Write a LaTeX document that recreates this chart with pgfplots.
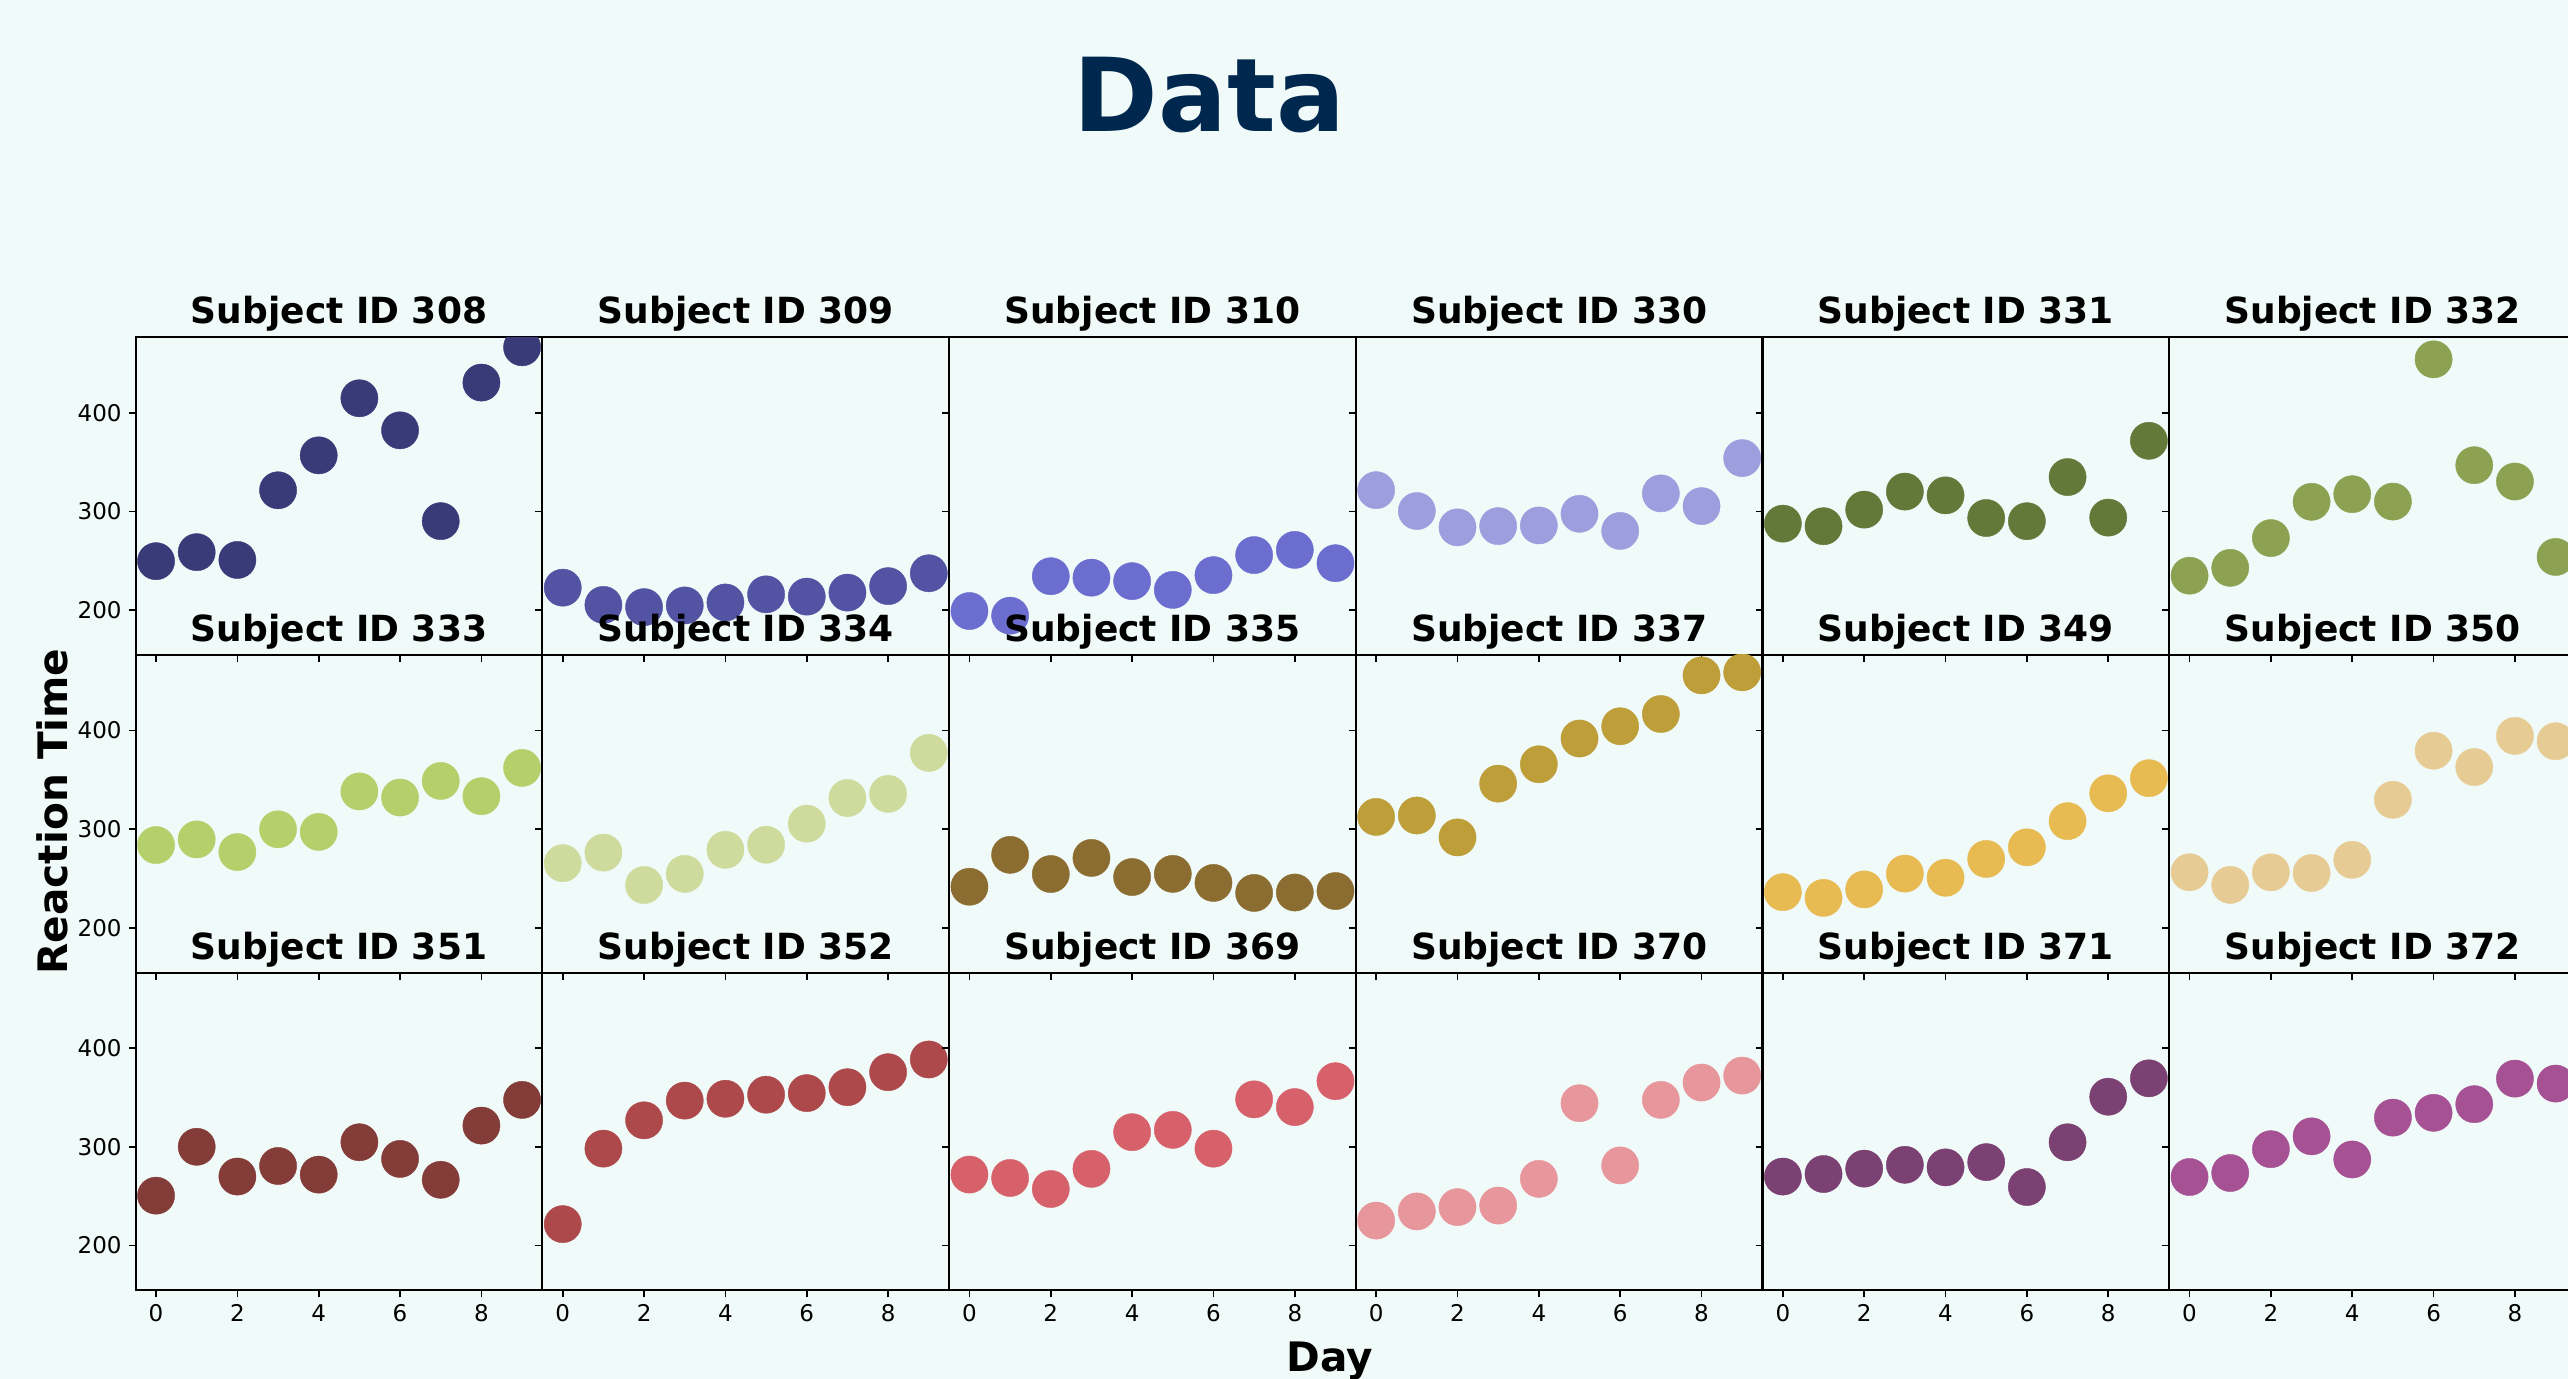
\documentclass[border=0pt]{standalone}
\usepackage{pgfplots}
\pgfplotsset{compat=1.18}
\usepackage{fontspec}
\setmainfont{DejaVu Sans}
\definecolor{bg}{HTML}{F0FAF8}
\definecolor{titlec}{HTML}{00284F}
\definecolor{c308}{HTML}{393B79}
\definecolor{c309}{HTML}{5254A3}
\definecolor{c310}{HTML}{6B6ECF}
\definecolor{c330}{HTML}{9C9EDE}
\definecolor{c331}{HTML}{637939}
\definecolor{c332}{HTML}{8CA252}
\definecolor{c333}{HTML}{B5CF6B}
\definecolor{c334}{HTML}{CEDB9C}
\definecolor{c335}{HTML}{8C6D31}
\definecolor{c337}{HTML}{BD9E39}
\definecolor{c349}{HTML}{E7BA52}
\definecolor{c350}{HTML}{E7CB94}
\definecolor{c351}{HTML}{843C39}
\definecolor{c352}{HTML}{AD494A}
\definecolor{c369}{HTML}{D6616B}
\definecolor{c370}{HTML}{E7969C}
\definecolor{c371}{HTML}{7B4173}
\definecolor{c372}{HTML}{A55194}
\pgfplotsset{
  panel/.style={
    scale only axis, width=203.35pt, height=158.85pt,
    anchor=north west,
    xmin=-0.5, xmax=9.5, ymin=154.5, ymax=476.5,
    xtick={0,2,4,6,8}, ytick={200,300,400},
    xtick pos=lower, ytick pos=left,
    tick align=outside, major tick length=3.5pt,
    tick style={black, line width=0.8pt},
    axis line style={black, line width=1.05pt},
    /pgf/number format/assume math mode=true,
    ticklabel style={font=\fontsize{11.5}{13}\selectfont},
    title style={at={(0.5,1)}, anchor=base, yshift=0.8pt, font=\fontsize{18}{20}\selectfont\bfseries},
    clip marker paths=true,
    xticklabels={}, yticklabels={},
  },
  lefty/.style={yticklabels={200,300,400}},
  bottomx/.style={xticklabels={0,2,4,6,8}},
}
\newcommand\panel[6]{%
  \begin{axis}[panel, at={(#1pt,#2pt)}, title={#4}, #5]
    \addplot[only marks, mark=*, color=#3, mark size=9.3pt, mark options={solid, line width=0.2pt, draw=#3, fill=#3}] coordinates {#6};
  \end{axis}}
\begin{document}
\begin{tikzpicture}
\fill[bg] (0,0) rectangle (1290pt,689.5pt);
% Row 1
\panel{67.85}{520.85}{c308}{Subject ID 308}{lefty}{(0,249.56) (1,258.7047) (2,250.8006) (3,321.4398) (4,356.8519) (5,414.6901) (6,382.2038) (7,290.1486) (8,430.5853) (9,466.3535)}
\panel{271.2}{520.85}{c309}{Subject ID 309}{}{(0,222.7339) (1,205.2658) (2,202.9778) (3,204.707) (4,207.7161) (5,215.9618) (6,213.6303) (7,217.7272) (8,224.2957) (9,237.3142)}
\panel{474.55}{520.85}{c310}{Subject ID 310}{}{(0,199.0539) (1,194.3322) (2,234.32) (3,232.8416) (4,229.3074) (5,220.4579) (6,235.4208) (7,255.7511) (8,261.0125) (9,247.5153)}
\panel{677.9}{520.85}{c330}{Subject ID 330}{}{(0,321.5426) (1,300.4002) (2,283.8565) (3,285.133) (4,285.7973) (5,297.5855) (6,280.2396) (7,318.2613) (8,305.3495) (9,354.0487)}
\panel{881.25}{520.85}{c331}{Subject ID 331}{}{(0,287.6079) (1,285.0) (2,301.8206) (3,320.1153) (4,316.2773) (5,293.3187) (6,290.075) (7,334.8177) (8,293.7469) (9,371.5811)}
\panel{1084.6}{520.85}{c332}{Subject ID 332}{}{(0,234.8606) (1,242.8118) (2,272.9613) (3,309.7688) (4,317.4629) (5,309.9976) (6,454.1619) (7,346.8311) (8,330.3003) (9,253.8644)}
% Row 2
\panel{67.85}{362}{c333}{Subject ID 333}{lefty}{(0,283.8424) (1,289.555) (2,276.7693) (3,299.8097) (4,297.171) (5,338.1665) (6,332.0265) (7,348.8399) (8,333.36) (9,362.0428)}
\panel{271.2}{362}{c334}{Subject ID 334}{}{(0,265.4731) (1,276.2012) (2,243.3647) (3,254.6723) (4,279.0244) (5,284.1912) (6,305.5248) (7,331.5229) (8,335.7469) (9,377.299)}
\panel{474.55}{362}{c335}{Subject ID 335}{}{(0,241.6083) (1,273.9472) (2,254.4907) (3,270.8021) (4,251.4519) (5,254.6362) (6,245.4523) (7,235.311) (8,235.7541) (9,237.2466)}
\panel{677.9}{362}{c337}{Subject ID 337}{}{(0,312.3666) (1,313.8058) (2,291.6112) (3,346.1222) (4,365.7324) (5,391.8385) (6,404.2601) (7,416.6923) (8,455.8643) (9,458.9167)}
\panel{881.25}{362}{c349}{Subject ID 349}{}{(0,236.1032) (1,230.3167) (2,238.9256) (3,254.922) (4,250.7103) (5,269.7744) (6,281.5648) (7,308.102) (8,336.2806) (9,351.6451)}
\panel{1084.6}{362}{c350}{Subject ID 350}{}{(0,256.2968) (1,243.4543) (2,256.2046) (3,255.5271) (4,268.9165) (5,329.7247) (6,379.4445) (7,362.9184) (8,394.4872) (9,389.0527)}
% Row 3
\panel{67.85}{203.15}{c351}{Subject ID 351}{lefty,bottomx}{(0,250.5265) (1,300.0576) (2,269.8939) (3,280.5891) (4,271.8274) (5,304.6336) (6,287.7466) (7,266.5955) (8,321.5418) (9,347.5655)}
\panel{271.2}{203.15}{c352}{Subject ID 352}{bottomx}{(0,221.6771) (1,298.1939) (2,326.8785) (3,346.8555) (4,348.7402) (5,352.8287) (6,354.4266) (7,360.4326) (8,375.6406) (9,388.5417)}
\panel{474.55}{203.15}{c369}{Subject ID 369}{bottomx}{(0,271.9235) (1,268.4369) (2,257.2424) (3,277.6566) (4,314.8222) (5,317.2135) (6,298.1353) (7,348.1229) (8,340.28) (9,366.5131)}
\panel{677.9}{203.15}{c370}{Subject ID 370}{bottomx}{(0,225.264) (1,234.5235) (2,238.9008) (3,240.473) (4,267.5373) (5,344.1937) (6,281.1481) (7,347.5855) (8,365.163) (9,372.2288)}
\panel{881.25}{203.15}{c371}{Subject ID 371}{bottomx}{(0,269.8804) (1,272.4428) (2,277.8989) (3,281.7895) (4,279.1705) (5,284.512) (6,259.2658) (7,304.6306) (8,350.7807) (9,369.4692)}
\panel{1084.6}{203.15}{c372}{Subject ID 372}{bottomx}{(0,269.4117) (1,273.474) (2,297.5968) (3,310.6316) (4,287.1726) (5,329.6076) (6,334.4818) (7,343.2199) (8,369.1417) (9,364.1236)}
% Labels
\node[anchor=base, text=titlec, font=\fontsize{51}{58}\selectfont\bfseries] at (604.75pt,623.5pt) {Data};
\node[rotate=90, anchor=center, font=\fontsize{20.3}{24}\selectfont\bfseries] at (26.25pt,283.75pt) {Reaction Time};
\node[anchor=base, font=\fontsize{20.3}{24}\selectfont\bfseries] at (665pt,3.5pt) {Day};
\pgfresetboundingbox
\path[use as bounding box] (0,0) rectangle (1284pt,689.5pt);
\end{tikzpicture}
\end{document}
